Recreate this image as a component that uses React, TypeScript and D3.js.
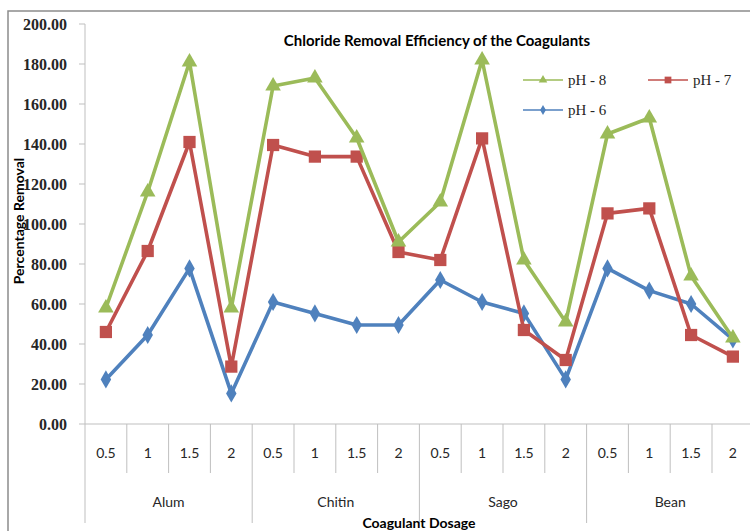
import React from "react";
import * as d3 from "d3";

const groups = ["Alum", "Chitin", "Sago", "Bean"];
const doses = ["0.5", "1", "1.5", "2"];
const yTicks = [0, 20, 40, 60, 80, 100, 120, 140, 160, 180, 200];

const ph8 = [58, 116, 181, 58, 169, 173, 143, 91, 111, 182, 82, 51, 145, 153, 74, 43];
const ph7 = [46, 86.5, 141, 28.7, 139.5, 133.7, 133.7, 86, 82, 142.8, 47, 32, 105.3, 107.8, 44.5, 33.7];
const ph6 = [22.3, 44.5, 77.8, 15.3, 61, 55.3, 49.5, 49.5, 72, 61, 55.3, 22.3, 77.8, 66.7, 60, 42.3];

const W = 750;
const H = 531;
const left = 85;
const bandW = 41.8;
const top = 24;
const bottom = 424;

const cats = groups.flatMap((g) => doses.map((d) => `${g}|${d}`));

const GREEN = "#9BBB59";
const RED = "#C0504D";
const BLUE = "#4F81BD";
const GRID = "#BFBFBF";
const SANS = "Lato, 'Open Sans', sans-serif";
const SERIF = "'Liberation Serif', serif";

export default function App() {
  const x = d3.scaleBand<string>().domain(cats).range([left, left + bandW * cats.length]).padding(0);
  const y = d3.scaleLinear().domain([0, 200]).range([bottom, top]);
  const cx = (i: number) => (x(cats[i]) as number) + x.bandwidth() / 2;
  const line = (vals: number[]) =>
    d3.line<number>().x((_, i) => cx(i)).y((v) => y(v))(vals) as string;

  const tri = d3.symbol().type(d3.symbolTriangle).size(105)() as string;
  const sq = d3.symbol().type(d3.symbolSquare).size(150)() as string;
  const dia = d3.symbol().type(d3.symbolDiamond).size(95)() as string;

  const series = [
    { vals: ph6, color: BLUE, path: dia },
    { vals: ph7, color: RED, path: sq },
    { vals: ph8, color: GREEN, path: tri },
  ];

  const groupW = bandW * 4;

  return (
    <svg
      width={W}
      height={H}
      style={{ position: "absolute", left: 0, top: 0, background: "#fff" }}
    >
      {/* chart border */}
      <rect x={8} y={11} width={W + 20} height={H + 20} fill="#fff" stroke="#8C8C8C" strokeWidth={1.5} />

      {/* y axis */}
      <line x1={left} x2={left} y1={top} y2={bottom} stroke={GRID} strokeWidth={1} />
      {yTicks.map((t) => (
        <g key={t}>
          <line x1={left - 6} x2={left} y1={y(t)} y2={y(t)} stroke={GRID} strokeWidth={1} />
          <text
            x={67}
            y={y(t)}
            dy="0.36em"
            textAnchor="end"
            fontFamily={SERIF}
            fontWeight="bold"
            fontSize={16}
            fill="#262626"
          >
            {t.toFixed(2)}
          </text>
        </g>
      ))}

      {/* x axis */}
      <line x1={left} x2={W + 10} y1={bottom} y2={bottom} stroke={GRID} strokeWidth={1} />
      {cats.map((c, i) => (
        <g key={c}>
          <line
            x1={x(c) as number}
            x2={x(c) as number}
            y1={bottom}
            y2={i % 4 === 0 ? 523 : 473}
            stroke={GRID}
            strokeWidth={1}
          />
          <text
            x={cx(i)}
            y={453}
            dy="0.36em"
            textAnchor="middle"
            fontFamily={SANS}
            fontSize={14}
            fill="#262626"
          >
            {c.split("|")[1]}
          </text>
        </g>
      ))}
      <line
        x1={left + bandW * 16}
        x2={left + bandW * 16}
        y1={bottom}
        y2={523}
        stroke={GRID}
      />
      {groups.map((g, gi) => (
        <text
          key={g}
          x={left + groupW * gi + groupW / 2}
          y={502}
          dy="0.36em"
          textAnchor="middle"
          fontFamily={SANS}
          fontSize={14}
          fill="#262626"
        >
          {g}
        </text>
      ))}

      {/* series */}
      {series.map((s, si) => (
        <g key={si}>
          <path d={line(s.vals)} fill="none" stroke={s.color} strokeWidth={3.6} strokeLinejoin="round" />
          {s.vals.map((v, i) => (
            <path key={i} d={s.path} transform={`translate(${cx(i)},${y(v)})`} fill={s.color} />
          ))}
        </g>
      ))}

      {/* title */}
      <text
        x={437}
        y={41}
        dy="0.36em"
        textAnchor="middle"
        fontFamily={SANS}
        fontWeight="bold"
        fontSize={15}
        fill="#000"
      >
        Chloride Removal Efficiency of the Coagulants
      </text>

      {/* legend */}
      {[
        { label: "pH - 8", color: GREEN, path: tri, x: 523, y: 80 },
        { label: "pH - 7", color: RED, path: sq, x: 648, y: 80 },
        { label: "pH - 6", color: BLUE, path: dia, x: 523, y: 110 },
      ].map((l) => (
        <g key={l.label}>
          <line x1={l.x} x2={l.x + 40} y1={l.y} y2={l.y} stroke={l.color} strokeWidth={1.5} />
          <path
            d={l.path}
            transform={`translate(${l.x + 20},${l.y}) scale(0.55)`}
            fill={l.color}
          />
          <text
            x={l.x + 45}
            y={l.y}
            dy="0.36em"
            fontFamily={SERIF}
            fontSize={15}
            fill="#262626"
          >
            {l.label}
          </text>
        </g>
      ))}

      {/* axis titles */}
      <text
        transform={`translate(24,221) rotate(-90)`}
        textAnchor="middle"
        fontFamily={SANS}
        fontWeight="bold"
        fontSize={14}
        fill="#000"
      >
        Percentage Removal
      </text>
      <text
        x={419}
        y={523}
        dy="0.36em"
        textAnchor="middle"
        fontFamily={SANS}
        fontWeight="bold"
        fontSize={14}
        fill="#000"
      >
        Coagulant Dosage
      </text>
    </svg>
  );
}
